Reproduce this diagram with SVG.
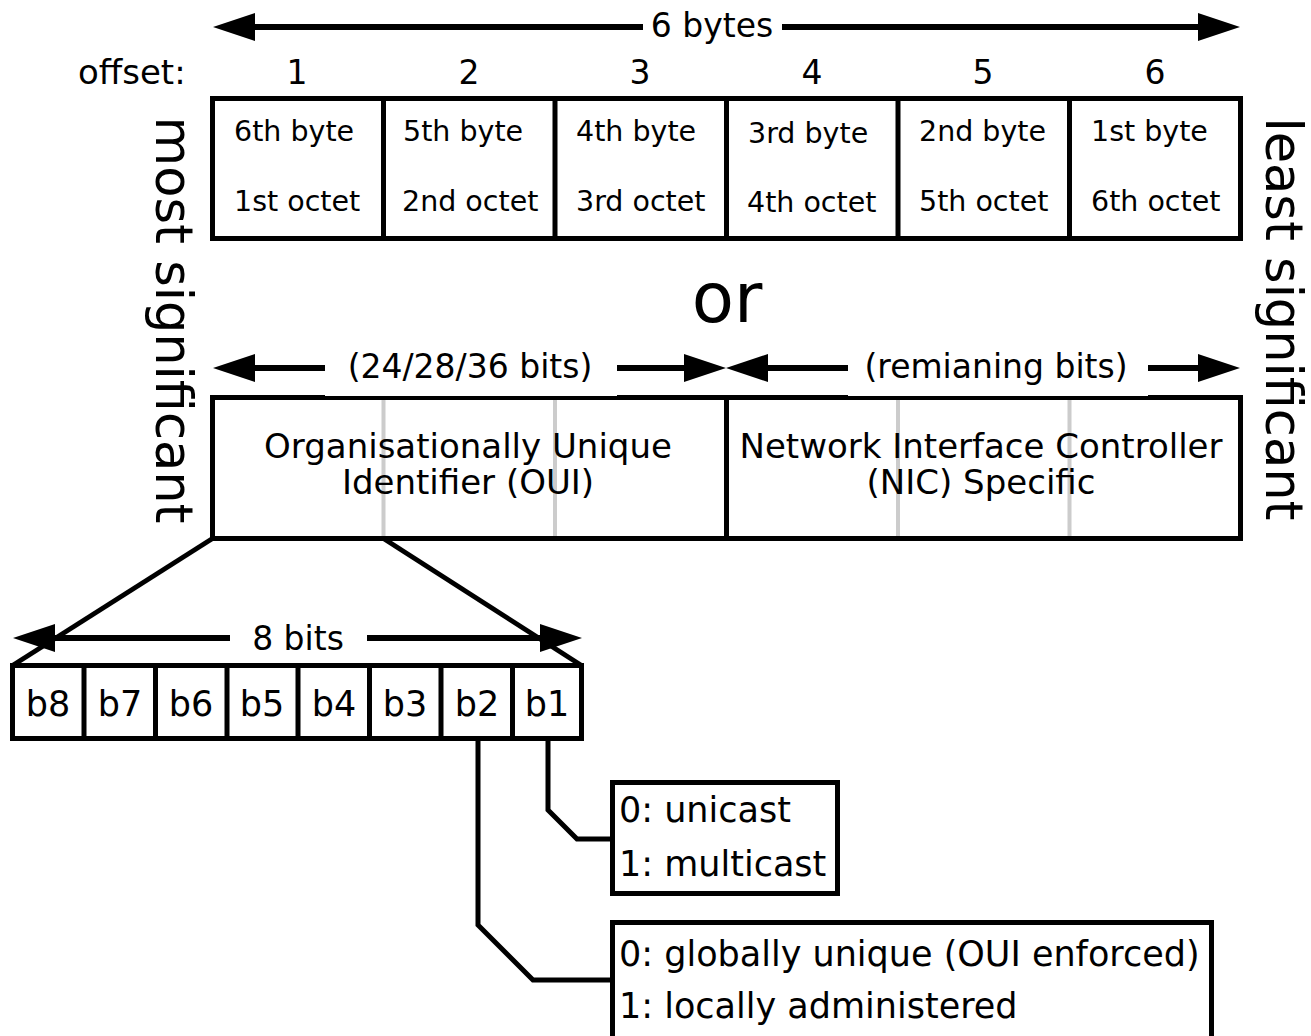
<svg xmlns="http://www.w3.org/2000/svg" width="1311" height="1036" viewBox="0 0 1311 1036">
<style>
text{font-family:"DejaVu Sans","Liberation Sans",sans-serif;fill:#000}
.t{font-size:33px}
.u{font-size:34px}
.l{font-size:35px}
.c{font-size:28.5px}
.m{text-anchor:middle}
.box{fill:#fff;stroke:#000;stroke-width:5}
.ln{fill:none;stroke:#000;stroke-width:5}
.ar{fill:none;stroke:#000;stroke-width:6;marker-end:url(#ah)}
.gr{stroke:#cccccc;stroke-width:4}
.big{font-size:51px}
</style>
<defs>
<marker id="ah" markerUnits="userSpaceOnUse" markerWidth="42" markerHeight="28" refX="0" refY="14" orient="auto" overflow="visible">
<path d="M0,0 L42,14 L0,28 z" fill="#000"/>
</marker>
</defs>
<rect width="1311" height="1036" fill="#fff"/>

<g id="width-label">
<text class="t m" x="712" y="37">6 bytes</text>
<text class="u" x="78" y="84">offset:</text>
<text class="t m" x="297" y="84">1</text>
<text class="t m" x="469" y="84">2</text>
<text class="t m" x="640" y="84">3</text>
<text class="t m" x="812" y="84">4</text>
<text class="t m" x="983" y="84">5</text>
<text class="t m" x="1155" y="84">6</text>
</g>

<g id="byte-table">
<rect class="box" x="212.5" y="98.5" width="1028" height="140"/>
<path class="ln" d="M383.5,98.5 V238.5 M555,98.5 V238.5 M726.5,98.5 V238.5 M898,98.5 V238.5 M1069.5,98.5 V238.5"/>
<text class="c" x="234" y="141">6th byte</text>
<text class="c" x="234" y="211">1st octet</text>
<text class="c" x="403" y="141">5th byte</text>
<text class="c" x="402" y="211">2nd octet</text>
<text class="c" x="576" y="141">4th byte</text>
<text class="c" x="576" y="211">3rd octet</text>
<text class="c" x="748" y="143">3rd byte</text>
<text class="c" x="747" y="212">4th octet</text>
<text class="c" x="919" y="141">2nd byte</text>
<text class="c" x="919" y="211">5th octet</text>
<text class="c" x="1091" y="141">1st byte</text>
<text class="c" x="1091" y="211">6th octet</text>
</g>

<g id="most-significant">
<text class="big m" transform="translate(156,320) rotate(90)">most significant</text>
</g>
<g id="least-significant">
<text class="big m" transform="translate(1266,319) rotate(90)">least significant</text>
</g>

<g id="or">
<text class="m" x="727" y="322" style="font-size:69px">or</text>
</g>

<g id="oui-nic">
<rect class="box" x="212.5" y="397.5" width="1028" height="141"/>
<line class="gr" x1="383.5" y1="400" x2="383.5" y2="536"/>
<line class="gr" x1="555" y1="400" x2="555" y2="536"/>
<line class="gr" x1="898" y1="400" x2="898" y2="536"/>
<line class="gr" x1="1069.5" y1="400" x2="1069.5" y2="536"/>
<line class="ln" x1="726.5" y1="397.5" x2="726.5" y2="538.5"/>
<rect x="325" y="345" width="292" height="51" fill="#fff"/>
<rect x="848" y="345" width="300" height="51" fill="#fff"/>
<text class="t m" x="470" y="378">(24/28/36 bits)</text>
<text class="t m" x="996" y="378">(remianing bits)</text>
<text class="u m" x="468" y="458">Organisationally Unique</text>
<text class="u m" x="468" y="494">Identifier (OUI)</text>
<text class="u m" x="981" y="458">Network Interface Controller</text>
<text class="u m" x="981" y="494">(NIC) Specific</text>
</g>

<g id="bits">
<text class="t m" x="298" y="650">8 bits</text>
<rect class="box" x="12.5" y="665.5" width="569" height="73"/>
<path class="ln" d="M84,665.5 V738.5 M155.5,665.5 V738.5 M227,665.5 V738.5 M298,665.5 V738.5 M369.5,665.5 V738.5 M441,665.5 V738.5 M512.5,665.5 V738.5"/>
<text class="l m" x="48" y="716">b8</text>
<text class="l m" x="120" y="716">b7</text>
<text class="l m" x="191" y="716">b6</text>
<text class="l m" x="262" y="716">b5</text>
<text class="l m" x="334" y="716">b4</text>
<text class="l m" x="405" y="716">b3</text>
<text class="l m" x="477" y="716">b2</text>
<text class="l m" x="547" y="716">b1</text>
</g>

<g id="cast-box">
<rect class="box" x="612.5" y="782.5" width="225" height="111"/>
<text class="l" x="619" y="822">0: unicast</text>
<text class="l" x="619" y="876">1: multicast</text>
</g>

<g id="admin-box">
<rect class="box" x="612.5" y="922.5" width="599" height="130"/>
<text class="l" x="619" y="966">0: globally unique (OUI enforced)</text>
<text class="l" x="619" y="1018">1: locally administered</text>
</g>

<g id="connectors">
<path class="ar" d="M643,27 H255"/>
<path class="ar" d="M782,27 H1198"/>
<path class="ar" d="M325,368 H255"/>
<path class="ar" d="M617,368 H684"/>
<path class="ar" d="M848,368 H768"/>
<path class="ar" d="M1148,368 H1198"/>
<path class="ar" d="M230,638 H55"/>
<path class="ar" d="M367,638 H540"/>
<path class="ln" d="M212.5,538.5 L12.5,665.5"/>
<path class="ln" d="M383.5,538.5 L581.5,665.5"/>
<path class="ln" d="M478,738.5 V925 L533,980 H612.5"/>
<path class="ln" d="M548,738.5 V810 L577,839 H612.5"/>
</g>
</svg>
